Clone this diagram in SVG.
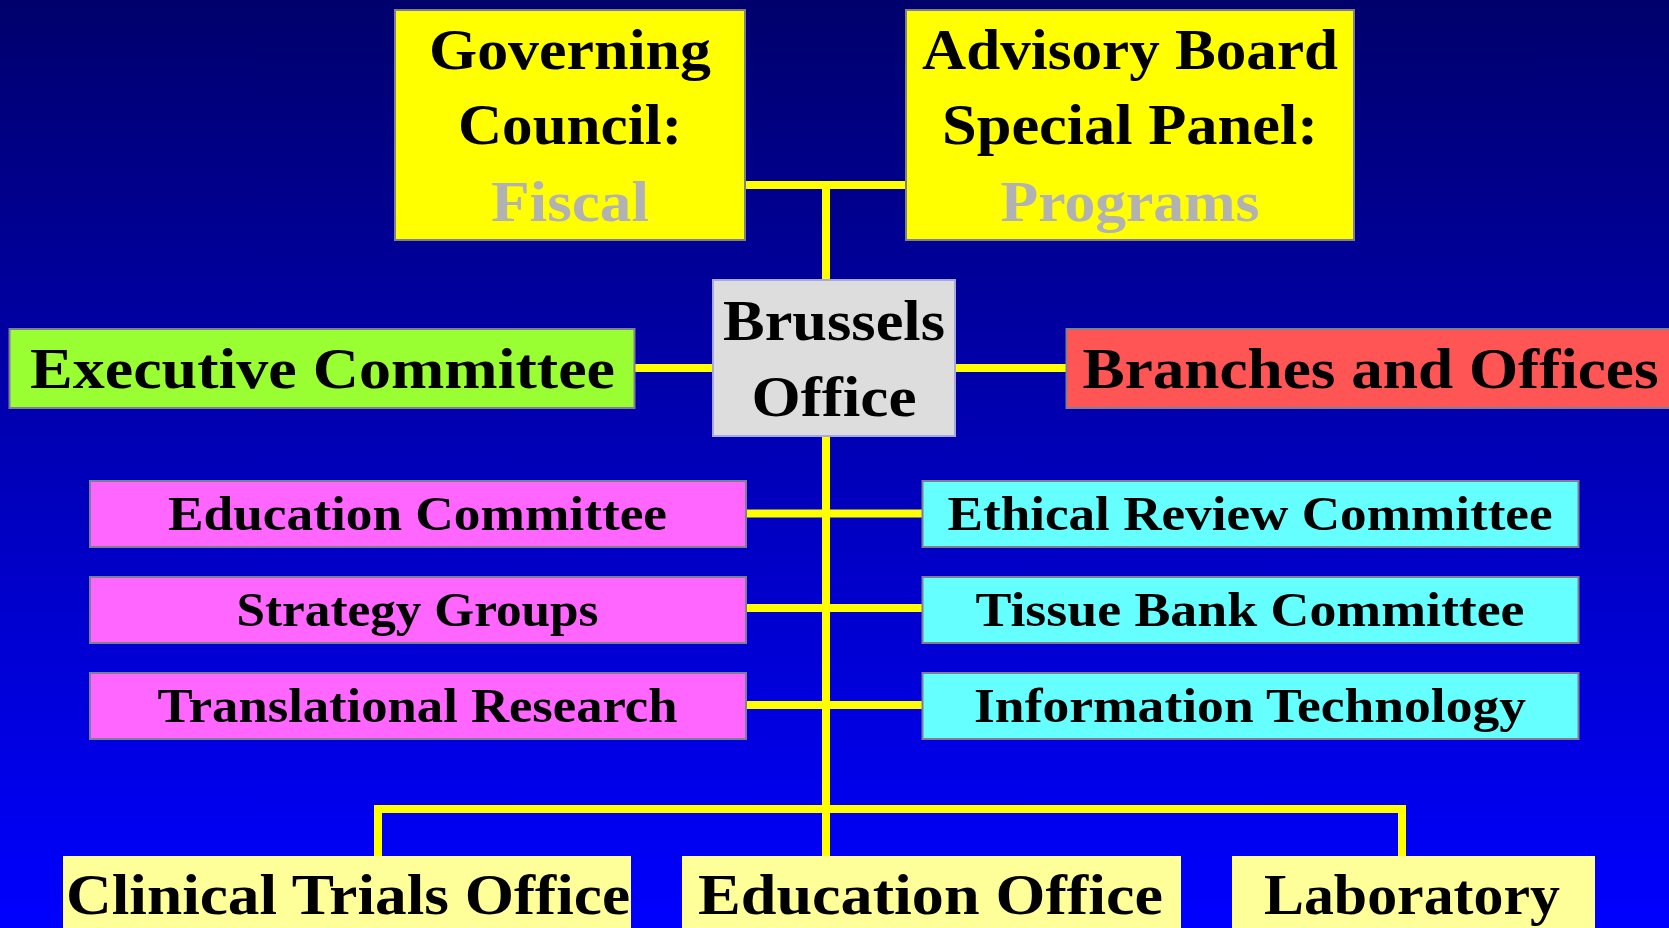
<svg xmlns="http://www.w3.org/2000/svg" width="1669" height="928" viewBox="0 0 1669 928">
<defs>
<linearGradient id="bg" x1="0" y1="0" x2="0" y2="1">
<stop offset="0" stop-color="#00006C"/>
<stop offset="0.5" stop-color="#0000B8"/>
<stop offset="1" stop-color="#0000FF"/>
</linearGradient>
<style>
.box{stroke:#7F7F8F;stroke-width:2}
.t{font-family:"Liberation Serif","Times New Roman",serif;font-weight:bold;fill:#000;text-anchor:middle}
.big{font-size:57px}
.mid{font-size:48px}
.grey{fill:#B2B2B2}
.conn{stroke:#FFFF00;stroke-width:8;fill:none}
</style>
</defs>
<rect x="0" y="0" width="1669" height="928" fill="url(#bg)"/>
<g id="connectors">
<path class="conn" d="M746 185 H905 M826 185 V280 M635 368 H713 M955 368 H1066 M826 436 V856 M746 513.5 H922 M746 608 H922 M746 705 H922 M378 856 V809 H1402 V856"/>
</g>
<g id="governing">
<rect class="box" x="395" y="10" width="350" height="230" fill="#FFFF00"/>
<text class="t big" x="570" y="69" textLength="282" lengthAdjust="spacingAndGlyphs">Governing</text>
<text class="t big" x="570" y="144" textLength="224" lengthAdjust="spacingAndGlyphs">Council:</text>
<text class="t big grey" x="570" y="221" textLength="158" lengthAdjust="spacingAndGlyphs">Fiscal</text>
</g>
<g id="advisory">
<rect class="box" x="906" y="10" width="448" height="230" fill="#FFFF00"/>
<text class="t big" x="1130" y="69" textLength="416" lengthAdjust="spacingAndGlyphs">Advisory Board</text>
<text class="t big" x="1130" y="144" textLength="376" lengthAdjust="spacingAndGlyphs">Special Panel:</text>
<text class="t big grey" x="1130" y="221" textLength="259" lengthAdjust="spacingAndGlyphs">Programs</text>
</g>
<g id="brussels">
<rect x="713" y="280" width="242" height="156" fill="#DDDDDD" stroke="#A8A8E0" stroke-width="2"/>
<text class="t big" x="834" y="340" textLength="222" lengthAdjust="spacingAndGlyphs">Brussels</text>
<text class="t big" x="834" y="416" textLength="165" lengthAdjust="spacingAndGlyphs">Office</text>
</g>
<g id="executive">
<rect class="box" x="9.5" y="329" width="625" height="79" fill="#99FF33"/>
<text class="t big" x="322.5" y="388" textLength="585" lengthAdjust="spacingAndGlyphs">Executive Committee</text>
</g>
<g id="branches">
<rect class="box" x="1066.5" y="329" width="620" height="79" fill="#FF5555"/>
<text class="t big" x="1370.5" y="388" textLength="576" lengthAdjust="spacingAndGlyphs">Branches and Offices</text>
</g>
<g id="education-committee">
<rect class="box" x="90" y="481" width="656" height="66" fill="#FF66FF"/>
<text class="t mid" x="417.5" y="530" textLength="499" lengthAdjust="spacingAndGlyphs">Education Committee</text>
</g>
<g id="strategy-groups">
<rect class="box" x="90" y="577" width="656" height="66" fill="#FF66FF"/>
<text class="t mid" x="417.5" y="626" textLength="362" lengthAdjust="spacingAndGlyphs">Strategy Groups</text>
</g>
<g id="translational-research">
<rect class="box" x="90" y="673" width="656" height="66" fill="#FF66FF"/>
<text class="t mid" x="417.5" y="722" textLength="520" lengthAdjust="spacingAndGlyphs">Translational Research</text>
</g>
<g id="ethical-review">
<rect class="box" x="922.5" y="481" width="656" height="66" fill="#66FFFF"/>
<text class="t mid" x="1250" y="530" textLength="605" lengthAdjust="spacingAndGlyphs">Ethical Review Committee</text>
</g>
<g id="tissue-bank">
<rect class="box" x="922.5" y="577" width="656" height="66" fill="#66FFFF"/>
<text class="t mid" x="1250" y="626" textLength="549" lengthAdjust="spacingAndGlyphs">Tissue Bank Committee</text>
</g>
<g id="information-technology">
<rect class="box" x="922.5" y="673" width="656" height="66" fill="#66FFFF"/>
<text class="t mid" x="1250" y="722" textLength="552" lengthAdjust="spacingAndGlyphs">Information Technology</text>
</g>
<g id="clinical-trials">
<rect x="63" y="856" width="568" height="80" fill="#FFFF99"/>
<text class="t big" x="348" y="914" textLength="564" lengthAdjust="spacingAndGlyphs">Clinical Trials Office</text>
</g>
<g id="education-office">
<rect x="682" y="856" width="499" height="80" fill="#FFFF99"/>
<text class="t big" x="930.5" y="914" textLength="465" lengthAdjust="spacingAndGlyphs">Education Office</text>
</g>
<g id="laboratory">
<rect x="1232" y="856" width="363" height="80" fill="#FFFF99"/>
<text class="t big" x="1412" y="914" textLength="296" lengthAdjust="spacingAndGlyphs">Laboratory</text>
</g>
</svg>
